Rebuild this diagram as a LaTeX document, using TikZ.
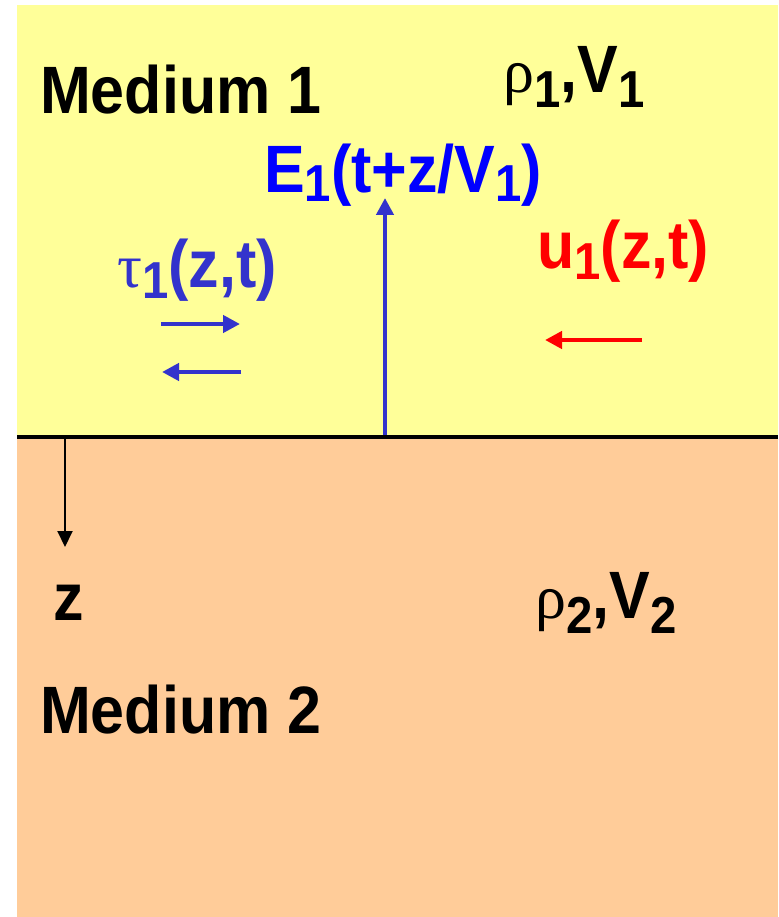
\documentclass[tikz,border=0pt]{standalone}
\usepackage{fontspec}
\setmainfont{Liberation Sans}[FakeStretch=0.91]
\newfontfamily\greekfont{Liberation Serif}
\usepackage{xcolor}
\usepackage{tikz}
\usetikzlibrary{arrows.meta}
\definecolor{mediumone}{HTML}{FFFF99}
\definecolor{mediumtwo}{HTML}{FFCC99}
\definecolor{fieldblue}{HTML}{0000FF}
\definecolor{stressblue}{HTML}{3333CC}
\definecolor{dispred}{HTML}{FF0000}
\newcommand{\lowsub}[2][11pt]{\raisebox{-#1}{\fontsize{52}{52}\selectfont #2}}
\newcommand{\gk}[1]{{\greekfont\mdseries\fontsize{62}{62}\selectfont #1}}

\begin{document}
\begin{tikzpicture}[x=1pt,y=-1pt,
  lbl/.style={anchor=base west,inner sep=0pt,font=\fontsize{67}{67}\selectfont\bfseries},
  sig/.style={line width=4.5pt,-{Triangle[length=17pt,width=17pt]}}]
\useasboundingbox (0,0) rectangle (778,917);
\fill[mediumone] (17,5) rectangle (778,437);
\fill[mediumtwo] (17,437) rectangle (778,917);
\coordinate (ifL) at (17,437);
\coordinate (ifR) at (778,437);
\node[lbl] (med1) at (40,114) {Medium 1};
\node[lbl] (rv1) at (503,93) {\gk{ρ}\lowsub[15pt]{1},V\lowsub[15pt]{1}};
\node[lbl,text=fieldblue] (efield) at (264,193) {E\lowsub[9pt]{1}(t+z/V\lowsub[9pt]{1})};
\node[lbl,text=stressblue] (tau) at (117,287) {\gk{τ}\lowsub{1}(z,t)};
\node[lbl,text=dispred] (disp) at (537,268) {u\lowsub{1}(z,t)};
\node[lbl] (zlab) at (53,620) {z};
\node[lbl] (rv2) at (535,618) {\gk{ρ}\lowsub[15pt]{2},V\lowsub[15pt]{2}};
\node[lbl] (med2) at (40,733) {Medium 2};
\coordinate (eFoot) at (385,437);
\coordinate (eTip) at (385,198);
\draw[sig,stressblue] (eFoot) -- (eTip);
\coordinate (tauA) at (161,324);
\coordinate (tauB) at (240,324);
\coordinate (tauC) at (241,372);
\coordinate (tauD) at (162,372);
\draw[sig,stressblue] (tauA) -- (tauB);
\draw[sig,stressblue] (tauC) -- (tauD);
\coordinate (uA) at (642,340);
\coordinate (uB) at (545,340);
\draw[sig,dispred] (uA) -- (uB);
\coordinate (zTop) at (65,437);
\coordinate (zTip) at (65,547);
\draw[line width=2pt,-{Triangle[length=16pt,width=15pt]}] (zTop) -- (zTip);
\draw[line width=4pt] (ifL) -- (ifR);
\end{tikzpicture}
\end{document}
